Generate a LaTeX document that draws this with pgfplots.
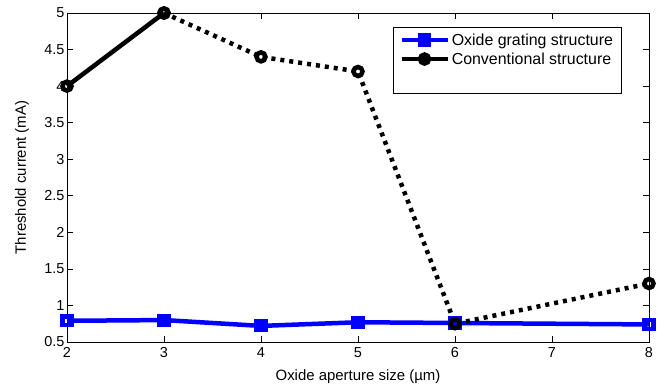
\documentclass[border=0pt]{standalone}
\usepackage{fontspec}
\setmainfont{Liberation Sans}
\usepackage{pgfplots}
\pgfplotsset{compat=1.18}
\definecolor{mblue}{RGB}{0,0,255}
\begin{document}
\begin{tikzpicture}
\useasboundingbox (-67bp,-47bp) rectangle (598bp,342bp);
\begin{axis}[
  at={(0,0)}, anchor=south west,
  scale only axis, width=582bp, height=329bp,
  xmin=2, xmax=8, ymin=0.5, ymax=5,
  xtick={2,3,4,5,6,7,8},
  ytick={0.5,1,1.5,2,2.5,3,3.5,4,4.5,5},
  yticklabels={0.5,1,1.5,2,2.5,3,3.5,4,4.5,5},
  xticklabels={2,3,4,5,6,7,8},
  tick style={black, line width=0.7pt},
  major tick length=6bp,
  axis line style={line width=0.7pt},
  ticklabel style={font=\fontsize{14.5}{16}\selectfont},
  xticklabel style={yshift=-2bp},
  yticklabel style={xshift=1bp},
  xlabel={Oxide aperture size (µm)},
  ylabel={Threshold current (mA)},
  label style={font=\fontsize{15}{17}\selectfont},
  xlabel style={at={(axis description cs:0.5,-0.106)}, anchor=center},
  ylabel style={at={(axis description cs:-0.0773,0.5)}, anchor=center},
  clip=false,
  legend style={at={(0.56,0.957)}, anchor=north west, draw=black, line width=0.7pt,
    font=\fontsize{16}{19}\selectfont, inner xsep=6bp, inner ysep=4bp,
    row sep=2bp},
  legend cell align=left,
  legend image code/.code={\draw[mark repeat=2,mark phase=2] plot coordinates {(0bp,0bp)(23bp,0bp)(46bp,0bp)};},
]
\addplot[mblue, line width=4.5bp, mark=square, mark size=4.3bp, mark options={solid, fill=white, line width=4.5bp}]
  coordinates {(2,0.79) (3,0.80) (4,0.72) (5,0.77) (6,0.76) (8,0.74)};
\addlegendentry{Oxide grating structure}
\addplot[black, line width=4.5bp, mark=o, mark size=4.5bp, mark options={solid, fill=white, line width=4.5bp}]
  coordinates {(2,4.0) (3,5.0)};
\addlegendentry{Conventional structure}
\addplot[black, line width=4.5bp, dash pattern=on 4bp off 5bp, mark=o, mark size=4.5bp, mark options={solid, fill=white, line width=4.5bp}, forget plot]
  coordinates {(3,5.0) (4,4.4) (5,4.2) (6,0.75) (8,1.3)};
\addlegendimage{empty legend}
\addlegendentry{\rule{0pt}{14bp}}
\end{axis}
\end{tikzpicture}
\end{document}
